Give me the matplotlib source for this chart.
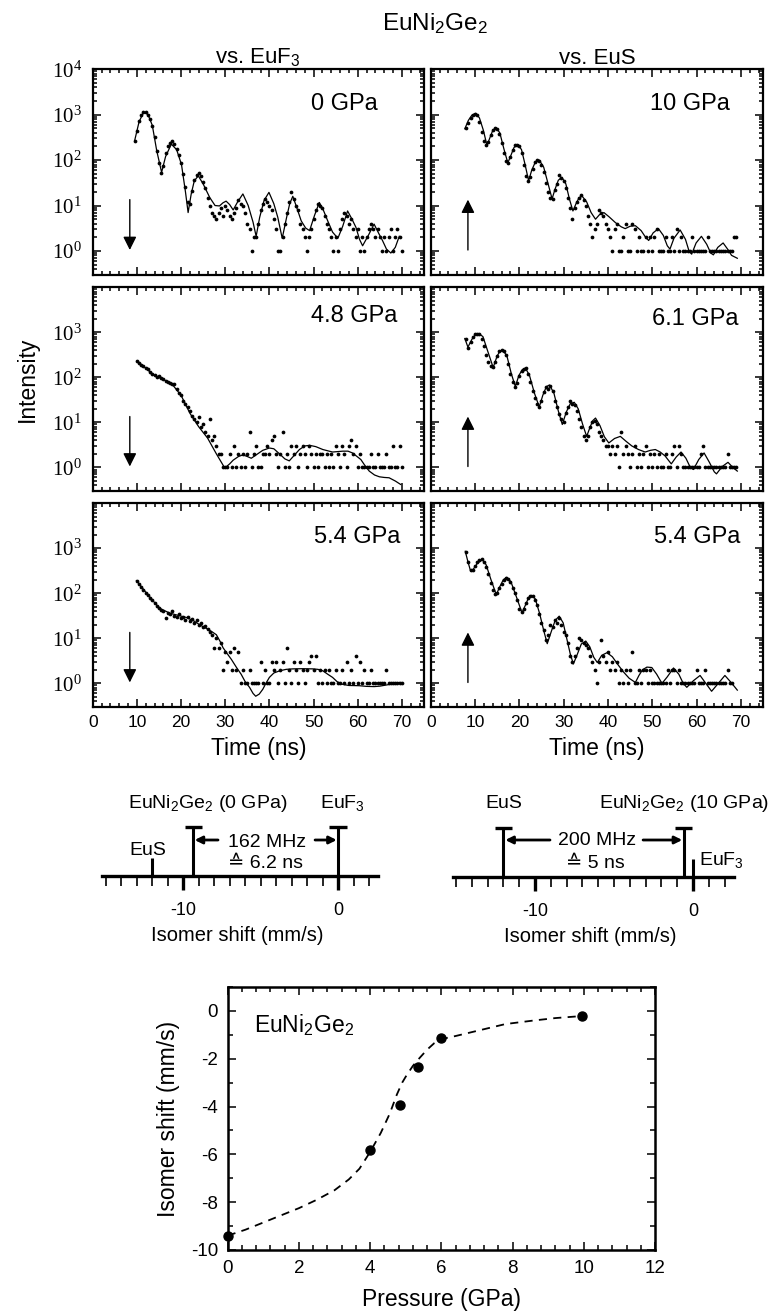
import numpy as np
import matplotlib
matplotlib.use("Agg")
import matplotlib.pyplot as plt
from matplotlib.ticker import (MultipleLocator, LogLocator, FixedLocator,
                               NullFormatter, FuncFormatter)

plt.rcParams['font.family'] = ['Liberation Sans', 'DejaVu Sans']
plt.rcParams['mathtext.default'] = 'regular'
plt.rcParams['axes.unicode_minus'] = False

# ---------------- time spectra (counts per 0.5 ns channel) ----------------
pressure_labels = ['0 GPa', '10 GPa', '4.8 GPa', '6.1 GPa', '5.4 GPa', '5.4 GPa']
first_channel = [9.5, 8.0, 10.0, 8.0, 10.0, 8.0]   # ns

counts_0gpa = [270, 430, 720, 980, 1150, 1130, 1000, 820, 560, 330, 160, 85, 52, 75, 140, 200,
               240, 265, 230, 180, 130, 85, 50, 25, 12, 11, 21, 36, 48, 52, 44, 33, 24, 15, 10,
               7, 6, 5, 7, 9, 6, 10, 8, 6, 5, 7, 9, 13, 11, 10, 7, 4, 3, 1, 2, 2, 4, 8, 11, 14,
               12, 10, 8, 5, 3, 1, 1, 2, 4, 7, 12, 20, 14, 10, 8, 4, 3, 2, 1, 2, 3, 5, 8, 11, 10,
               9, 6, 4, 3, 2, 1, 2, 1, 3, 5, 7, 6, 4, 5, 3, 2, 3, 1, 2, 1, 2, 3, 4, 3, 2, 3, 2,
               1, 2, 1, 2, 3, 1, 2, 3, 2, 1]
counts_10gpa = [500, 650, 850, 1000, 1060, 980, 700, 420, 260, 210, 250, 350, 450, 510, 490, 380,
                240, 140, 95, 88, 120, 170, 210, 220, 200, 140, 80, 45, 35, 42, 65, 90, 100, 95,
                80, 55, 32, 20, 15, 14, 22, 30, 48, 40, 35, 24, 15, 9, 5, 9, 12, 15, 17, 13, 10,
                6, 4, 2, 3, 4, 8, 7, 6, 4, 3, 2, 1, 3, 4, 1, 1, 2, 4, 1, 1, 4, 3, 1, 2, 1, 1, 2,
                1, 2, 1, 2, 3, 1, 1, 1, 2, 1, 1, 2, 1, 3, 1, 2, 1, 1, 1, 1, 2, 1, 1, 1, 1, 1, 1,
                2, 1, 1, 1, 1, 1, 1, 1, 1, 1, 1, 1, 2, 2]
counts_4p8gpa = [230, 210, 190, 175, 160, 150, 130, 120, 115, 100, 105, 95, 90, 85, 80, 75, 70,
                 72, 55, 45, 40, 30, 25, 22, 18, 14, 12, 10, 13, 8, 9, 6, 5, 12, 4, 5, 3, 2, 2,
                 1, 1, 1, 2, 1, 3, 1, 2, 1, 2, 1, 2, 6, 1, 2, 3, 1, 1, 2, 2, 3, 2, 4, 5, 2, 1,
                 2, 6, 1, 2, 1, 3, 2, 3, 1, 2, 3, 2, 1, 3, 2, 1, 2, 1, 2, 2, 1, 2, 1, 2, 1, 3,
                 2, 1, 3, 2, 1, 3, 4, 2, 3, 1, 2, 1, 1, 1, 1, 2, 1, 1, 2, 1, 1, 1, 2, 1, 1, 3,
                 1, 1, 3, 1]
counts_6p1gpa = [700, 450, 600, 800, 900, 940, 900, 720, 500, 320, 220, 175, 170, 220, 300, 380,
                 400, 390, 320, 200, 120, 80, 62, 75, 110, 140, 155, 160, 120, 80, 50, 35, 25,
                 22, 30, 48, 60, 55, 65, 50, 30, 22, 15, 12, 10, 16, 22, 30, 26, 24, 18, 12, 8,
                 5, 4, 5, 8, 10, 11, 9, 6, 5, 4, 3, 3, 2, 3, 2, 3, 1, 6, 2, 3, 2, 1, 2, 3, 1, 2,
                 1, 2, 3, 1, 2, 1, 2, 1, 2, 1, 1, 2, 1, 1, 2, 3, 1, 3, 2, 1, 1, 1, 1, 1, 1, 1, 1,
                 2, 3, 1, 1, 1, 1, 1, 1, 1, 1, 1, 1, 2, 1, 1, 1, 1]
counts_5p4gpa_f3 = [190, 160, 140, 120, 100, 90, 78, 70, 60, 52, 46, 42, 40, 28, 36, 34, 40, 32,
                    30, 35, 28, 30, 26, 29, 24, 27, 22, 25, 20, 22, 18, 19, 16, 14, 12, 6, 10, 6,
                    8, 2, 5, 3, 5, 2, 6, 2, 5, 1, 2, 1, 1, 2, 1, 1, 1, 1, 3, 1, 2, 1, 1, 3, 2, 3,
                    1, 2, 3, 1, 6, 2, 1, 3, 2, 1, 3, 2, 1, 2, 3, 4, 2, 4, 1, 2, 1, 2, 1, 2, 1, 1,
                    2, 1, 1, 2, 1, 3, 1, 2, 1, 4, 1, 3, 1, 2, 1, 1, 2, 1, 1, 1, 1, 1, 1, 2, 1, 1,
                    1, 1, 1, 1, 1]
counts_5p4gpa_s = [800, 480, 320, 330, 400, 480, 540, 560, 500, 380, 260, 170, 120, 95, 100, 130,
                   160, 200, 220, 210, 180, 130, 100, 70, 45, 38, 45, 60, 80, 88, 85, 70, 55, 35,
                   22, 15, 9, 12, 20, 18, 25, 22, 28, 20, 14, 12, 8, 4, 3, 4, 6, 10, 9, 8, 7, 6,
                   4, 3, 2, 1, 3, 9, 4, 3, 5, 2, 3, 2, 3, 1, 2, 1, 2, 1, 2, 5, 1, 1, 2, 1, 2, 2,
                   1, 2, 1, 1, 1, 1, 1, 1, 1, 2, 1, 2, 2, 1, 2, 1, 1, 1, 1, 1, 1, 1, 2, 1, 1, 1,
                   2, 1, 1, 1, 1, 1, 1, 1, 1, 1, 2, 1, 1]

# fitted curves (time in ns, intensity)
fit_t_0gpa = [9.5, 10.5, 11.5, 12.5, 13.5, 14.5, 15.6, 16.5, 17.8, 19.0, 20.1, 21.0, 21.6, 22.3,
              23.0, 23.9, 25.0, 26.5, 27.7, 28.7, 29.5, 30.2, 31.0, 31.8, 32.8, 34.0, 35.2, 36.3,
              37.0, 37.8, 38.8, 39.9, 41.0, 41.9, 42.9, 43.9, 44.6, 45.3, 46.2, 47.2, 48.2, 49.1,
              50.2, 51.3, 52.2, 53.2, 54.3, 55.5, 56.6, 57.7, 58.7, 59.6, 60.4, 61.1, 62.4, 63.7,
              64.6, 65.6, 66.5, 67.5, 68.5, 69.4]
fit_i_0gpa = [270, 700, 1120, 1020, 580, 160, 54, 120, 225, 170, 80, 20, 7, 18, 35, 45, 30, 15,
              10, 9.8, 11.5, 12.5, 10.5, 8, 12, 18, 10, 4.3, 2.1, 5.5, 13, 19.5, 11, 5.5, 1.9,
              5.5, 11, 16, 9, 4.6, 3.2, 2.8, 6, 11.7, 8, 4.6, 2.6, 1.9, 3.5, 7.6, 5, 3.3, 1.8,
              1.3, 2.2, 3.9, 2.6, 1.7, 1.1, 0.9, 1.2, 2.1]
fit_t_10gpa = [7.7, 8.5, 9.3, 10.2, 11.0, 11.9, 12.7, 13.3, 14.0, 14.8, 15.6, 16.5, 17.4, 18.0,
               18.8, 19.7, 20.5, 21.3, 22.1, 22.8, 23.6, 24.5, 25.5, 26.5, 27.4, 28.0, 28.8,
               29.6, 30.5, 31.3, 32.1, 32.8, 33.5, 34.2, 35.2, 36.2, 37.2, 38.1, 39.1, 40.3,
               41.7, 43.0, 43.9, 45.0, 46.2, 47.5, 48.5, 49.2, 50.2, 51.4, 52.5, 53.4, 54.0,
               54.9, 56.3, 57.5, 58.3, 58.9, 59.9, 61.1, 62.3, 63.2, 63.8, 64.8, 66.0, 67.0,
               67.9, 69.2]
fit_i_10gpa = [490, 750, 980, 1070, 850, 450, 210, 300, 450, 510, 400, 180, 87, 120, 190, 220,
               170, 80, 35, 60, 90, 100, 70, 30, 14, 22, 36, 42, 30, 14, 7.6, 11, 15, 16, 12, 7,
               5, 6.3, 7, 5.6, 4.2, 3.4, 3.1, 3.5, 3.6, 2.8, 2.0, 1.7, 2.5, 3.1, 2.2, 1.3, 1.1,
               1.9, 2.9, 1.8, 1.0, 0.85, 1.5, 2.1, 1.4, 0.9, 0.82, 1.2, 1.5, 1.1, 0.8, 0.69]
fit_t_4p8gpa = [10, 12, 14, 16, 18, 20, 22, 24, 26, 28, 29.9, 31, 31.8, 33, 34, 35, 35.9, 37, 38.5,
                40, 41, 42.3, 43.5, 44.5, 45.5, 46.8, 48, 49.1, 50.5, 52.1, 54.3, 56.6, 57.8,
                58.8, 60, 60.7, 61.5, 62.6, 63.8, 64.9, 66, 67.1, 68.5, 69.7]
fit_i_4p8gpa = [230, 160, 110, 90, 70, 40, 16, 8, 4.5, 2.0, 0.97, 1.2, 1.45, 1.75, 1.9, 1.75,
                1.6, 1.9, 2.4, 2.7, 2.6, 2.0, 1.55, 1.4, 1.8, 2.5, 3.0, 3.1, 2.9, 2.5, 2.2, 2.3,
                2.3, 2.1, 1.7, 1.5, 1.15, 0.83, 0.68, 0.62, 0.6, 0.59, 0.5, 0.42]
fit_t_6p1gpa = [7.7, 8.4, 9.3, 10.1, 10.9, 11.8, 12.8, 14.1, 15.0, 15.7, 16.3, 17.2, 18.2, 19.1,
                19.9, 20.7, 21.4, 22.3, 23.4, 24.5, 25.3, 26.1, 26.8, 27.8, 28.8, 29.7, 30.6,
                31.5, 32.4, 33.3, 34.3, 35.2, 36.0, 36.6, 37.2, 38.2, 39.2, 40.2, 41.5, 42.8,
                44.1, 45.4, 46.9, 48.4, 49.6, 50.7, 51.8, 52.9, 54.3, 55.4, 56.5, 57.6, 58.6,
                59.3, 60.5, 61.7, 62.9, 64.0, 64.5, 65.8, 67.1, 68.2, 69.2]
fit_i_6p1gpa = [730, 470, 700, 900, 940, 800, 400, 166, 300, 390, 400, 300, 120, 63, 110, 150,
                160, 110, 45, 22, 40, 62, 68, 45, 18, 9, 17, 26, 28, 20, 9, 4.9, 8, 11, 12.5, 8.5,
                4.8, 3.5, 4.4, 4.9, 3.8, 3.0, 2.5, 2.2, 2.4, 2.5, 2.2, 1.8, 1.2, 1.7, 2.2, 1.6,
                1.0, 0.9, 1.5, 2.1, 1.3, 0.8, 0.72, 1.05, 1.3, 1.0, 0.83]
fit_t_5p4gpa_f3 = [9.9, 11, 12.2, 13.7, 15.2, 17.5, 19.5, 21.2, 23, 24.2, 26, 27, 28, 29, 29.5,
                   30.5, 31.4, 32.5, 33.6, 34.5, 35.5, 36.3, 36.9, 37.7, 38.5, 39.2, 40.0, 41,
                   42.3, 43.8, 45.3, 47.5, 49.8, 51, 52.1, 53.2, 54.3, 55.3, 56.2, 58, 60.3, 62,
                   63.7, 65, 66.4, 68, 69.4]
fit_i_5p4gpa_f3 = [190, 140, 100, 67, 46, 36, 32, 29, 24, 20, 16, 14, 12, 8, 6.2, 4.5, 3.4, 2.3,
                   1.6, 1.1, 0.82, 0.6, 0.52, 0.58, 0.74, 1.0, 1.36, 1.7, 1.9, 2.05, 2.1, 2.12,
                   2.1, 2.05, 1.9, 1.6, 1.36, 1.1, 0.97, 0.9, 0.89, 0.86, 0.85, 0.87, 0.92, 0.98,
                   1.05]
fit_t_5p4gpa_s = [7.8, 8.4, 9.0, 9.6, 10.6, 11.7, 12.5, 13.6, 14.8, 15.6, 16.4, 17.2, 18.1, 19.4,
                  20.6, 21.4, 22.1, 22.8, 23.6, 24.6, 25.5, 26.3, 27.2, 28.1, 29.0, 29.9, 30.8,
                  31.5, 32.2, 33.0, 34.0, 35.0, 35.9, 36.8, 37.6, 38.6, 39.8, 41.0, 42.4, 43.5,
                  44.8, 46.2, 47.0, 47.8, 48.8, 49.9, 51.0, 52.2, 53.4, 54.8, 56.0, 57.0, 57.8,
                  59.3, 60.8, 62.1, 63.4, 64.9, 66.4, 67.8, 69.2]
fit_i_5p4gpa_s = [850, 500, 310, 340, 470, 550, 430, 200, 93, 140, 200, 225, 180, 80, 37, 55, 80,
                  90, 75, 35, 15, 7.6, 14, 25, 31, 22, 9, 4.5, 2.7, 4.2, 7.5, 8.7, 6.5, 3.8, 2.9,
                  4.2, 4.8, 3.9, 2.5, 1.8, 1.3, 1.05, 1.5, 2.0, 2.3, 2.25, 1.6, 1.0, 1.4, 2.2,
                  1.6, 1.0, 0.82, 1.15, 1.5, 1.0, 0.67, 1.0, 1.5, 1.05, 0.71]

counts_all = [counts_0gpa, counts_10gpa, counts_4p8gpa, counts_6p1gpa,
              counts_5p4gpa_f3, counts_5p4gpa_s]
fits_t = [fit_t_0gpa, fit_t_10gpa, fit_t_4p8gpa, fit_t_6p1gpa, fit_t_5p4gpa_f3, fit_t_5p4gpa_s]
fits_i = [fit_i_0gpa, fit_i_10gpa, fit_i_4p8gpa, fit_i_6p1gpa, fit_i_5p4gpa_f3, fit_i_5p4gpa_s]

# ---------------- energy schematics ----------------
sch_names = [['EuS', 'EuNi$_2$Ge$_2$ (0 GPa)', 'EuF$_3$'],
             ['EuS', 'EuNi$_2$Ge$_2$ (10 GPa)', 'EuF$_3$']]
sch_shift = [[-12.0, -9.35, 0.0], [-12.0, -0.6, 0.0]]
sch_tall = [[False, True, True], [True, True, False]]
sch_freq = ['162 MHz', '200 MHz']
sch_time = ['\u2259 6.2 ns', '\u2259 5 ns']

# ---------------- isomer shift vs pressure ----------------
pressure = [0.0, 4.0, 4.85, 5.35, 6.0, 9.95]
isomer_shift = [-9.4, -5.8, -3.95, -2.35, -1.15, -0.23]
guide_p = [0, 0.5, 1, 1.5, 2, 2.5, 3, 3.4, 3.7, 4, 4.3, 4.55, 4.75, 4.9, 5.0, 5.2, 5.4, 5.6, 5.8,
           6.0, 6.4, 7.1, 7.8, 8.6, 9.2, 9.9]
guide_is = [-9.4, -9.15, -8.85, -8.55, -8.25, -7.9, -7.5, -7.05, -6.6, -5.9, -5.1, -4.3, -3.5,
            -3.0, -2.75, -2.3, -1.95, -1.62, -1.35, -1.18, -1.05, -0.8, -0.55, -0.4, -0.3, -0.22]

W, H = 773, 1316
fig = plt.figure(figsize=(W / 100, H / 100), dpi=100)


def px_axes(x0, y0, x1, y1):
    return fig.add_axes([x0 / W, 1 - y1 / H, (x1 - x0) / W, (y1 - y0) / H])


cols = [(92.7, 424), (430.7, 763)]
rows = [(69.3, 274.7), (287.3, 491), (503, 707)]
label_pos = [(0.861, 0.83), (0.901, 0.83), (0.921, 0.858), (0.925, 0.843),
             (0.928, 0.833), (0.931, 0.833)]

for k in range(6):
    r, c = divmod(k, 2)
    ax = px_axes(cols[c][0], rows[r][0], cols[c][1], rows[r][1])
    ax.set_yscale('log')
    cnt = np.array(counts_all[k], dtype=float)
    t = first_channel[k] + 0.5 * np.arange(len(cnt))
    ok = cnt > 0
    ax.plot(t[ok], cnt[ok], 'o', ms=2.7, color='k', mew=0)
    ax.plot(fits_t[k], fits_i[k], '-', color='k', lw=0.9)
    ax.set_xlim(0, 75)
    ax.set_ylim(0.3, 1e4)

    ax.xaxis.set_major_locator(MultipleLocator(10))
    ax.xaxis.set_minor_locator(MultipleLocator(2))
    ax.yaxis.set_major_locator(FixedLocator([1, 10, 100, 1000, 10000]))
    ax.yaxis.set_minor_locator(LogLocator(base=10, subs=np.arange(2, 10), numticks=20))
    ax.yaxis.set_minor_formatter(NullFormatter())
    top_row = (r == 0)
    ax.yaxis.set_major_formatter(FuncFormatter(
        lambda v, p, top=top_row: '' if (v > 5000 and not top) else '$10^{%d}$' % round(np.log10(v))))
    ax.tick_params(which='both', direction='in', top=True, right=True, width=1.1)
    ax.tick_params(which='major', length=6)
    ax.tick_params(which='minor', length=3)
    ax.tick_params(axis='y', labelfontfamily='Liberation Serif', labelsize=15, pad=8,
                   labelleft=(c == 0))
    ax.tick_params(axis='x', labelsize=12.5, pad=6, labelbottom=(r == 2))
    for s in ax.spines.values():
        s.set_linewidth(1.6)

    if c == 0:
        ax.annotate('', xy=(8.4, 1.05), xytext=(8.4, 13.5),
                    arrowprops=dict(arrowstyle='-|>', color='k', lw=1, mutation_scale=20,
                                    shrinkA=0, shrinkB=0))
    else:
        ax.annotate('', xy=(8.4, 13.5), xytext=(8.4, 1.05),
                    arrowprops=dict(arrowstyle='-|>', color='k', lw=1, mutation_scale=20,
                                    shrinkA=0, shrinkB=0))
    ax.text(label_pos[k][0], label_pos[k][1], pressure_labels[k], transform=ax.transAxes,
            ha='right', va='center', fontsize=17)
    if r == 2:
        ax.set_xlabel('Time (ns)', fontsize=16.5, labelpad=5)

fig.text(435 / W, 1 - 24 / H, 'EuNi$_2$Ge$_2$', ha='center', va='center', fontsize=17.5)
fig.text(258 / W, 1 - 58 / H, 'vs. EuF$_3$', ha='center', va='center', fontsize=16)
fig.text(597 / W, 1 - 58 / H, 'vs. EuS', ha='center', va='center', fontsize=16)
fig.text(27.5 / W, 1 - 379 / H, 'Intensity', rotation=90, ha='center', va='center',
         fontsize=16.5)

# schematics: x in mm/s, y in pixels above the line
sch_boxes = [(90, 790, 384.5, 876), (440.2, 791, 740.4, 877)]
name_xy = [[(-12.3, 21, 'center'), (-8.39, 68, 'center'), (0.32, 68, 'center')],
           [(-12.0, 69, 'center'), (-0.54, 69, 'center'), (0.38, 12, 'left')]]
arrow_y = [36, 37]
arrow_pairs = [[(-7.74, -9.25), (-1.48, -0.08)], [(-9.05, -11.88), (-3.16, -0.68)]]
freq_xy = [(-4.58, 29), (-6.08, 32)]
time_xy = [(-4.7, 8), (-6.2, 9)]

for j in range(2):
    x0, y0, x1, y1 = sch_boxes[j]
    ax = px_axes(x0, y0, x1, y1)
    ax.set_xlim(-16, 3)
    ax.set_ylim(0, y1 - y0)
    ax.patch.set_visible(False)
    for s in ['left', 'right', 'top']:
        ax.spines[s].set_visible(False)
    ax.spines['bottom'].set_bounds(-15.2, 2.6)
    ax.spines['bottom'].set_linewidth(2.4)
    ax.xaxis.set_major_locator(FixedLocator([-10, 0]))
    ax.xaxis.set_minor_locator(FixedLocator(list(range(-15, 3))))
    ax.tick_params(axis='x', which='major', direction='out', length=10, width=2.4,
                   labelsize=13, pad=9)
    ax.tick_params(axis='x', which='minor', direction='out', length=7.5, width=1.2)
    ax.set_yticks([])
    ax.set_xlabel('Isomer shift (mm/s)', fontsize=14.5, labelpad=5)
    for i in range(3):
        s = sch_shift[j][i]
        h = 49 if sch_tall[j][i] else 18
        ax.plot([s, s], [0, h], color='k', lw=2.2, solid_capstyle='butt', clip_on=False)
        if sch_tall[j][i]:
            ax.plot([s - 0.55, s + 0.55], [h, h], color='k', lw=2.4, solid_capstyle='butt',
                    clip_on=False)
        nx, ny, ha = name_xy[j][i]
        ax.text(nx, ny, sch_names[j][i], ha=ha, va='baseline', fontsize=14)
    for tail, tip in arrow_pairs[j]:
        ax.annotate('', xy=(tip, arrow_y[j]), xytext=(tail, arrow_y[j]),
                    arrowprops=dict(arrowstyle='-|>', color='k', lw=2, mutation_scale=11,
                                    shrinkA=0, shrinkB=0))
    ax.text(freq_xy[j][0], freq_xy[j][1], sch_freq[j], ha='center', va='baseline', fontsize=14)
    ax.text(time_xy[j][0], time_xy[j][1], sch_time[j], ha='center', va='baseline', fontsize=14)

# isomer shift vs pressure
axp = px_axes(227.7, 987, 655, 1250)
axp.plot(guide_p, guide_is, color='k', lw=1.3, dashes=(4.5, 3.5))
axp.plot(pressure, isomer_shift, 'o', color='k', ms=6.5, clip_on=False)
axp.set_xlim(0, 12)
axp.set_ylim(-10, 1)
axp.xaxis.set_major_locator(MultipleLocator(2))
axp.xaxis.set_minor_locator(MultipleLocator(0.4))
axp.yaxis.set_major_locator(MultipleLocator(2))
axp.yaxis.set_minor_locator(MultipleLocator(1))
axp.tick_params(which='both', direction='in', top=True, right=True, width=1.1)
axp.tick_params(which='major', length=6, labelsize=13.5, pad=7)
axp.tick_params(which='minor', length=3.5)
for s in axp.spines.values():
    s.set_linewidth(1.8)
axp.set_xlabel('Pressure (GPa)', fontsize=16.5, labelpad=8)
axp.set_ylabel('Isomer shift (mm/s)', fontsize=16.5, labelpad=8)
axp.text(0.75, -0.6, 'EuNi$_2$Ge$_2$', ha='left', va='center', fontsize=16.5)

fig.savefig('out.png', dpi=100)
